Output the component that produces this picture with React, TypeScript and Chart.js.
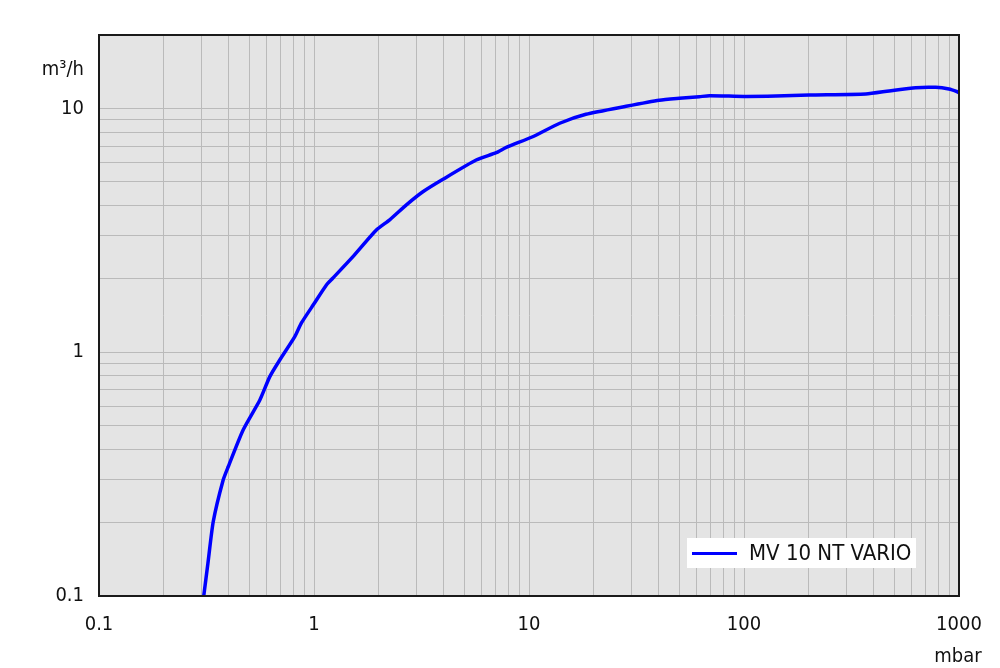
import React, { useEffect, useRef } from "react";
import { Chart, registerables } from "chart.js";

Chart.register(...registerables);

const seriesLabel = "MV 10 NT VARIO";
const pressure = [0.307, 0.321, 0.34, 0.378, 0.399, 0.468, 0.56, 0.623, 0.693, 0.814, 0.874, 1.0, 1.142, 1.222, 1.514, 1.95, 2.25, 2.69, 3.21, 3.98, 5.68, 7.04, 7.84, 10.4, 13.9, 18.4, 28.3, 40.4, 50, 62, 69, 100, 140.7, 201, 368.6, 473, 629, 779, 898, 982, 1000];
const pumpingSpeed = [0.1, 0.136, 0.202, 0.299, 0.339, 0.48, 0.637, 0.794, 0.929, 1.158, 1.318, 1.58, 1.887, 2.01, 2.46, 3.17, 3.49, 4.02, 4.55, 5.12, 6.14, 6.58, 6.92, 7.65, 8.69, 9.46, 10.2, 10.8, 11.0, 11.17, 11.27, 11.2, 11.24, 11.35, 11.46, 11.79, 12.16, 12.2, 12.0, 11.7, 11.6];

const xLabels = [0.1, 1, 10, 100, 1000];
const yLabels = [0.1, 1, 10];
const xUnit = "mbar";
const yUnit = "m³/h";

const FONT = "'DejaVu Sans Condensed', 'DejaVu Sans', sans-serif";

function gridValues(min: number, max: number): number[] {
  const out: number[] = [];
  for (let e = -1; e <= 3; e++) {
    for (let m = 1; m <= 9; m++) {
      const v = parseFloat((m * Math.pow(10, e)).toPrecision(6));
      if (v >= min - 1e-9 && v <= max + 1e-9) out.push(v);
    }
  }
  return out;
}

function isLabel(v: number, list: number[]) {
  return list.some((l) => Math.abs(l - v) / l < 1e-6);
}

const decorPlugin = {
  id: "decor",
  beforeDraw(chart: any) {
    const { ctx, chartArea: a } = chart;
    ctx.save();
    ctx.fillStyle = "#e4e4e4";
    ctx.fillRect(a.left, a.top, a.right - a.left, a.bottom - a.top);
    ctx.restore();
  },
  afterDraw(chart: any) {
    const { ctx, chartArea: a } = chart;
    ctx.save();
    ctx.strokeStyle = "#1a1a1a";
    ctx.lineWidth = 2;
    ctx.strokeRect(a.left, a.top, a.right - a.left, a.bottom - a.top);
    ctx.fillStyle = "#111";
    ctx.font = `20px ${FONT}`;
    ctx.textAlign = "right";
    ctx.textBaseline = "alphabetic";
    ctx.fillText(yUnit, a.left - 15, 75);
    ctx.textAlign = "center";
    ctx.fillText(xUnit, a.right - 1, 662);
    const ds = chart.data.datasets[0];
    const bx = a.right - 272;
    const by = a.bottom - 58;
    ctx.fillStyle = "#ffffff";
    ctx.fillRect(bx, by, 229, 30);
    ctx.strokeStyle = ds.borderColor;
    ctx.lineWidth = 3;
    ctx.beginPath();
    ctx.moveTo(bx + 5, by + 15.5);
    ctx.lineTo(bx + 50, by + 15.5);
    ctx.stroke();
    ctx.fillStyle = "#111";
    ctx.font = `22px ${FONT}`;
    ctx.textAlign = "left";
    ctx.textBaseline = "middle";
    ctx.fillText(ds.label, bx + 62, by + 16);
    ctx.restore();
  },
};

export default function App() {
  const ref = useRef<HTMLCanvasElement>(null);
  useEffect(() => {
    if (!ref.current) return;
    const data = pressure.map((x, i) => ({ x, y: pumpingSpeed[i] }));
    const chart = new Chart(ref.current, {
      type: "line",
      data: {
        datasets: [
          {
            label: seriesLabel,
            data,
            borderColor: "#0000ff",
            backgroundColor: "#0000ff",
            borderWidth: 3.5,
            pointRadius: 0,
            tension: 0.2,
            fill: false,
          },
        ],
      },
      options: {
        responsive: false,
        animation: false,
        parsing: { xAxisKey: "x", yAxisKey: "y" } as any,
        layout: { padding: { top: 35, right: 41, left: 0, bottom: 0 } },
        plugins: { legend: { display: false }, tooltip: { enabled: false } },
        scales: {
          x: {
            type: "logarithmic",
            min: 0.1,
            max: 1000,
            afterBuildTicks: (s: any) => {
              s.ticks = gridValues(0.1, 1000).map((v) => ({ value: v }));
            },
            afterFit: (s: any) => {
              s.height = 72;
            },
            ticks: {
              autoSkip: false,
              maxRotation: 0,
              padding: 17,
              color: "#111",
              font: { family: FONT, size: 20 },
              callback: (v: any) => (isLabel(Number(v), xLabels) ? String(Number(v)) : ""),
            },
            grid: { color: "#bababa", lineWidth: 1, drawTicks: false },
            border: { display: false },
          },
          y: {
            type: "logarithmic",
            min: 0.1,
            max: 20,
            afterBuildTicks: (s: any) => {
              s.ticks = gridValues(0.1, 20).map((v) => ({ value: v }));
            },
            afterFit: (s: any) => {
              s.width = 99;
            },
            ticks: {
              autoSkip: false,
              padding: 15,
              color: "#111",
              font: { family: FONT, size: 20 },
              callback: (v: any) => (isLabel(Number(v), yLabels) ? String(Number(v)) : ""),
            },
            grid: { color: "#bababa", lineWidth: 1, drawTicks: false },
            border: { display: false },
          },
        },
      },
      plugins: [decorPlugin],
    });
    return () => chart.destroy();
  }, []);
  return (
    <div style={{ position: "absolute", left: 0, top: 0, width: 1000, height: 668, background: "#fff" }}>
      <canvas ref={ref} width={1000} height={668} style={{ display: "block" }} />
    </div>
  );
}
